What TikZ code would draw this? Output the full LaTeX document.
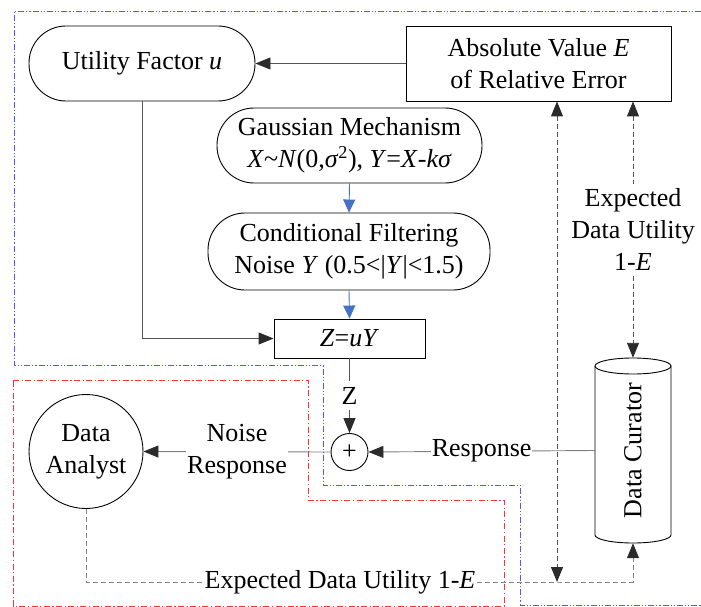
\documentclass[tikz,border=0pt]{standalone}
\usepackage{fontspec}
\usepackage{graphicx}
\setmainfont{Liberation Serif}
\usetikzlibrary{arrows.meta}
\definecolor{linegray}{HTML}{555555}
\definecolor{lightgray}{HTML}{808080}
\definecolor{tipgray}{HTML}{2B2B2B}
\definecolor{flowblue}{HTML}{4472C4}
\definecolor{zoneblue}{HTML}{5555FF}
\definecolor{zonered}{HTML}{FF3333}
\tikzset{
  txt/.style={font=\fontsize{26}{32}\selectfont, align=center},
  stadium/.style={txt, draw=black, line width=0.9pt, rounded corners=37pt, inner sep=0pt},
  boxnode/.style={txt, draw=black, line width=0.9pt, inner sep=0pt},
  roundnode/.style={txt, draw=black, line width=0.9pt, circle, inner sep=0pt},
  lbl/.style={txt, fill=white, inner sep=1pt},
  darktip/.tip={Triangle[length=15pt,width=12pt,fill=tipgray,color=tipgray]},
  arr/.style={-darktip},
  dualarr/.style={darktip-darktip},
  bluearr/.style={draw=flowblue, line width=0.9pt, -{Triangle[length=13pt,width=12pt,fill=flowblue]}},
  solidline/.style={draw=linegray, line width=0.9pt},
  dashline/.style={draw=linegray, line width=0.9pt, dash pattern=on 5pt off 3pt},
  zone/.style={line width=0.9pt, dash pattern=on 6pt off 2pt on 1.2pt off 2pt on 1.2pt off 2pt},
  zonetwo/.style={line width=0.9pt, dash pattern=on 6pt off 2.5pt on 1.2pt off 2.5pt},
}
\begin{document}
\begin{tikzpicture}[x=1pt,y=-1pt]
\useasboundingbox (0,0) rectangle (701,607);

% trust zones
\draw[zone, draw=zoneblue] (701,11) -- (14,11) -- (14,365) -- (323,365) -- (323,485)
  -- (520,485) -- (520,605) -- (701,605);
\draw[zonetwo, draw=zonered] (13,380) -- (308,380) -- (308,500) -- (504,500)
  -- (504,606) -- (13,606) -- cycle;

% blocks
\node[stadium, minimum width=226pt, minimum height=75pt] (util) at (142,63.5) {Utility Factor \textit{u}};
\node[boxnode, minimum width=265pt, minimum height=75pt] (abs) at (538.5,63.5) {Absolute Value \textit{E}\\of Relative Error};
\node[stadium, minimum width=265pt, minimum height=75pt] (gauss) at (349.5,145.5)
  {Gaussian Mechanism\\\textit{X}\textasciitilde\textit{N}(0,\textit{σ}\textsuperscript{2}), \textit{Y}=\textit{X}-\textit{kσ}};
\node[stadium, minimum width=282pt, minimum height=77pt] (cond) at (349,251.5)
  {Conditional Filtering\\Noise \textit{Y} (0.5<|\textit{Y}|<1.5)};
\node[boxnode, minimum width=151pt, minimum height=39pt] (zbox) at (349.5,338.5) {\textit{Z}=\textit{uY}};
\node[roundnode, minimum size=37pt] (plus) at (349.5,452) {+};
\node[roundnode, minimum size=114pt] (analyst) at (86,451.5) {Data\\Analyst};

% data curator: a standing cylinder around a text node
\node[txt, minimum width=76pt, minimum height=185pt, inner sep=0pt] (curator) at (633,450.5)
  {\rotatebox{90}{Data Curator}};
\draw[draw=black, line width=0.9pt] (633,366) ellipse[x radius=38, y radius=8];
\draw[draw=black, line width=0.9pt] (595,366) -- (595,535)
  arc[start angle=180, end angle=0, x radius=38, y radius=8] -- (671,366);
\coordinate (d1) at (557,582);

% solid flow
\draw[solidline, arr] (abs.west) -- (util.east);
\draw[bluearr] (gauss.south) -- (cond.north);
\draw[bluearr] (cond.south) -- (zbox.north);
\draw[solidline, arr] (util.south) |- (zbox.west);
\draw[solidline, arr] (zbox.south) -- node[lbl, inner sep=6pt] {Z} (plus.north);
\draw[draw=lightgray, line width=0.9pt, arr] (plus.west) -- node[lbl] {Noise\\Response} (analyst.east);
\draw[draw=lightgray, line width=0.9pt, arr] (curator.west) -- node[lbl] {Response} (plus.east);

% expected utility feedback
\draw[dashline, dualarr] (abs.south -| d1) -- (d1);
\draw[dashline, dualarr] (abs.south -| curator.center) -- node[lbl, inner sep=5pt] {Expected\\Data Utility\\1-\textit{E}} (curator.north);
\draw[dashline, draw=lightgray, arr] (analyst.south) |- (d1) -| (curator.south);
\node[lbl] (eu) at (340,582) {Expected Data Utility 1-\textit{E}};
\end{tikzpicture}
\end{document}
